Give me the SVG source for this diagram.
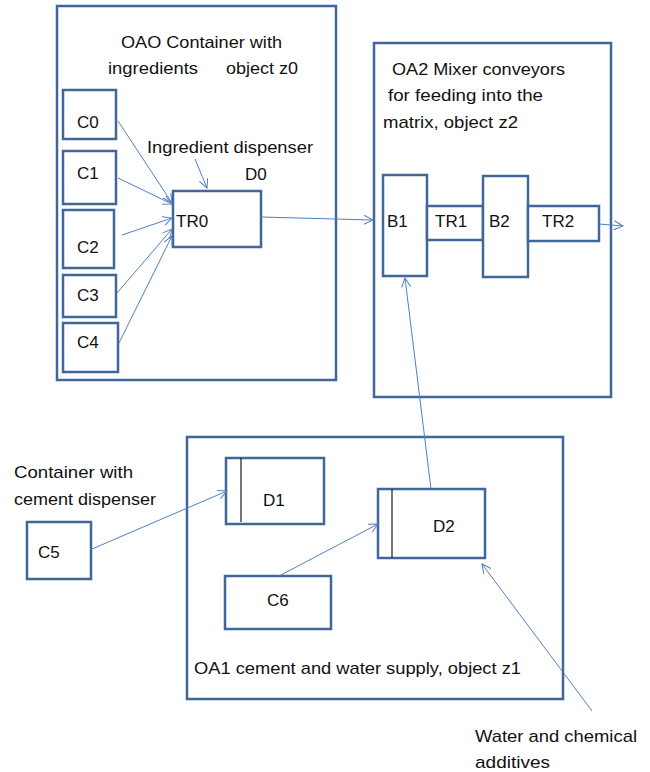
<svg xmlns="http://www.w3.org/2000/svg" width="650" height="772" viewBox="0 0 650 772">
  <style>
    .box { fill: #ffffff; stroke: #41669a; stroke-width: 2.5; }
    .inner { stroke: #1a1a1a; stroke-width: 1.2; }
    .link { fill: none; stroke: #4f81c4; stroke-width: 1; marker-end: url(#arrow); }
    .plain { fill: none; stroke: #4f81c4; stroke-width: 1; }
    text { font-family: "Liberation Sans", Arial, sans-serif; font-size: 17px; fill: #111111; }
  </style>
  <defs>
    <marker id="arrow" markerUnits="userSpaceOnUse" markerWidth="12" markerHeight="12" refX="10" refY="5" orient="auto">
      <path d="M1,0.5 L10,5 L1,9.5" fill="none" stroke="#4f81c4" stroke-width="1"/>
    </marker>
  </defs>

  <!-- container boxes -->
  <g id="oa0">
    <rect class="box" x="57" y="6" width="279" height="374"/>
    <text x="121" y="48" textLength="161" lengthAdjust="spacingAndGlyphs">OAO Container with</text>
    <text x="108" y="74" textLength="90" lengthAdjust="spacingAndGlyphs">ingredients</text>
    <text x="226" y="74" textLength="72" lengthAdjust="spacingAndGlyphs">object z0</text>
  </g>
  <g id="oa2">
    <rect class="box" x="374" y="43" width="237" height="354"/>
    <text x="392" y="75" textLength="173" lengthAdjust="spacingAndGlyphs">OA2 Mixer conveyors</text>
    <text x="388" y="101" textLength="155" lengthAdjust="spacingAndGlyphs">for feeding into the</text>
    <text x="383" y="128" textLength="135" lengthAdjust="spacingAndGlyphs">matrix, object z2</text>
  </g>
  <g id="oa1">
    <rect class="box" x="187" y="437" width="376" height="262"/>
    <text x="194" y="674" textLength="327" lengthAdjust="spacingAndGlyphs">OA1 cement and water supply, object z1</text>
  </g>

  <!-- ingredient containers -->
  <g id="c0"><rect class="box" x="63" y="90" width="53" height="49"/><text x="77" y="128">C0</text></g>
  <g id="c1"><rect class="box" x="63" y="151" width="53" height="53"/><text x="77" y="179">C1</text></g>
  <g id="c2"><rect class="box" x="63" y="210" width="51" height="58"/><text x="77" y="253">C2</text></g>
  <g id="c3"><rect class="box" x="63" y="275" width="53" height="42"/><text x="77" y="301">C3</text></g>
  <g id="c4"><rect class="box" x="63" y="323" width="55" height="49"/><text x="77" y="348">C4</text></g>

  <g id="tr0">
    <rect class="box" x="173" y="191" width="88" height="56"/>
    <text x="176" y="227">TR0</text>
  </g>
  <g id="d0-label">
    <text x="147" y="153" textLength="166" lengthAdjust="spacingAndGlyphs">Ingredient dispenser</text>
    <text x="245" y="180">D0</text>
  </g>

  <!-- mixer conveyors -->
  <g id="b1"><rect class="box" x="383" y="175" width="44" height="101"/><text x="387" y="227">B1</text></g>
  <g id="tr1"><rect class="box" x="427" y="206" width="56" height="34"/><text x="435" y="227">TR1</text></g>
  <g id="b2"><rect class="box" x="483" y="176" width="45" height="101"/><text x="489" y="227">B2</text></g>
  <g id="tr2"><rect class="box" x="528" y="206" width="71" height="35"/><text x="542" y="227">TR2</text></g>

  <!-- cement and water supply -->
  <g id="c5-label">
    <text x="14" y="478" textLength="119" lengthAdjust="spacingAndGlyphs">Container with</text>
    <text x="14" y="505" textLength="142" lengthAdjust="spacingAndGlyphs">cement dispenser</text>
  </g>
  <g id="c5"><rect class="box" x="27" y="522" width="64" height="57"/><text x="38" y="558">C5</text></g>
  <g id="d1">
    <rect class="box" x="226" y="458" width="98" height="66"/>
    <line class="inner" x1="241" y1="458" x2="241" y2="522"/>
    <text x="263" y="506">D1</text>
  </g>
  <g id="d2">
    <rect class="box" x="378" y="489" width="107" height="69"/>
    <line class="inner" x1="392" y1="489" x2="392" y2="558"/>
    <text x="433" y="532">D2</text>
  </g>
  <g id="c6"><rect class="box" x="225" y="576" width="106" height="53"/><text x="267" y="606">C6</text></g>
  <g id="water-label">
    <text x="475" y="742" textLength="162" lengthAdjust="spacingAndGlyphs">Water and chemical</text>
    <text x="475" y="768" textLength="75" lengthAdjust="spacingAndGlyphs">additives</text>
  </g>

  <!-- connectors -->
  <g id="connectors">
    <line class="link" x1="118" y1="121" x2="172" y2="203"/>
    <line class="link" x1="118" y1="178" x2="172" y2="204"/>
    <line class="link" x1="122" y1="235" x2="172" y2="218"/>
    <line class="link" x1="117" y1="293" x2="172" y2="229"/>
    <line class="link" x1="119" y1="343" x2="172" y2="236"/>
    <line class="link" x1="195" y1="159" x2="207" y2="188"/>
    <line class="link" x1="261" y1="217" x2="373" y2="220"/>
    <line class="link" x1="599" y1="224" x2="623" y2="226"/>
    <line class="link" x1="431" y1="489" x2="405" y2="278"/>
    <line class="link" x1="92" y1="549" x2="227" y2="491"/>
    <line class="link" x1="279" y1="576" x2="378" y2="524"/>
    <line class="link" x1="592" y1="711" x2="482" y2="564"/>
  </g>
</svg>
